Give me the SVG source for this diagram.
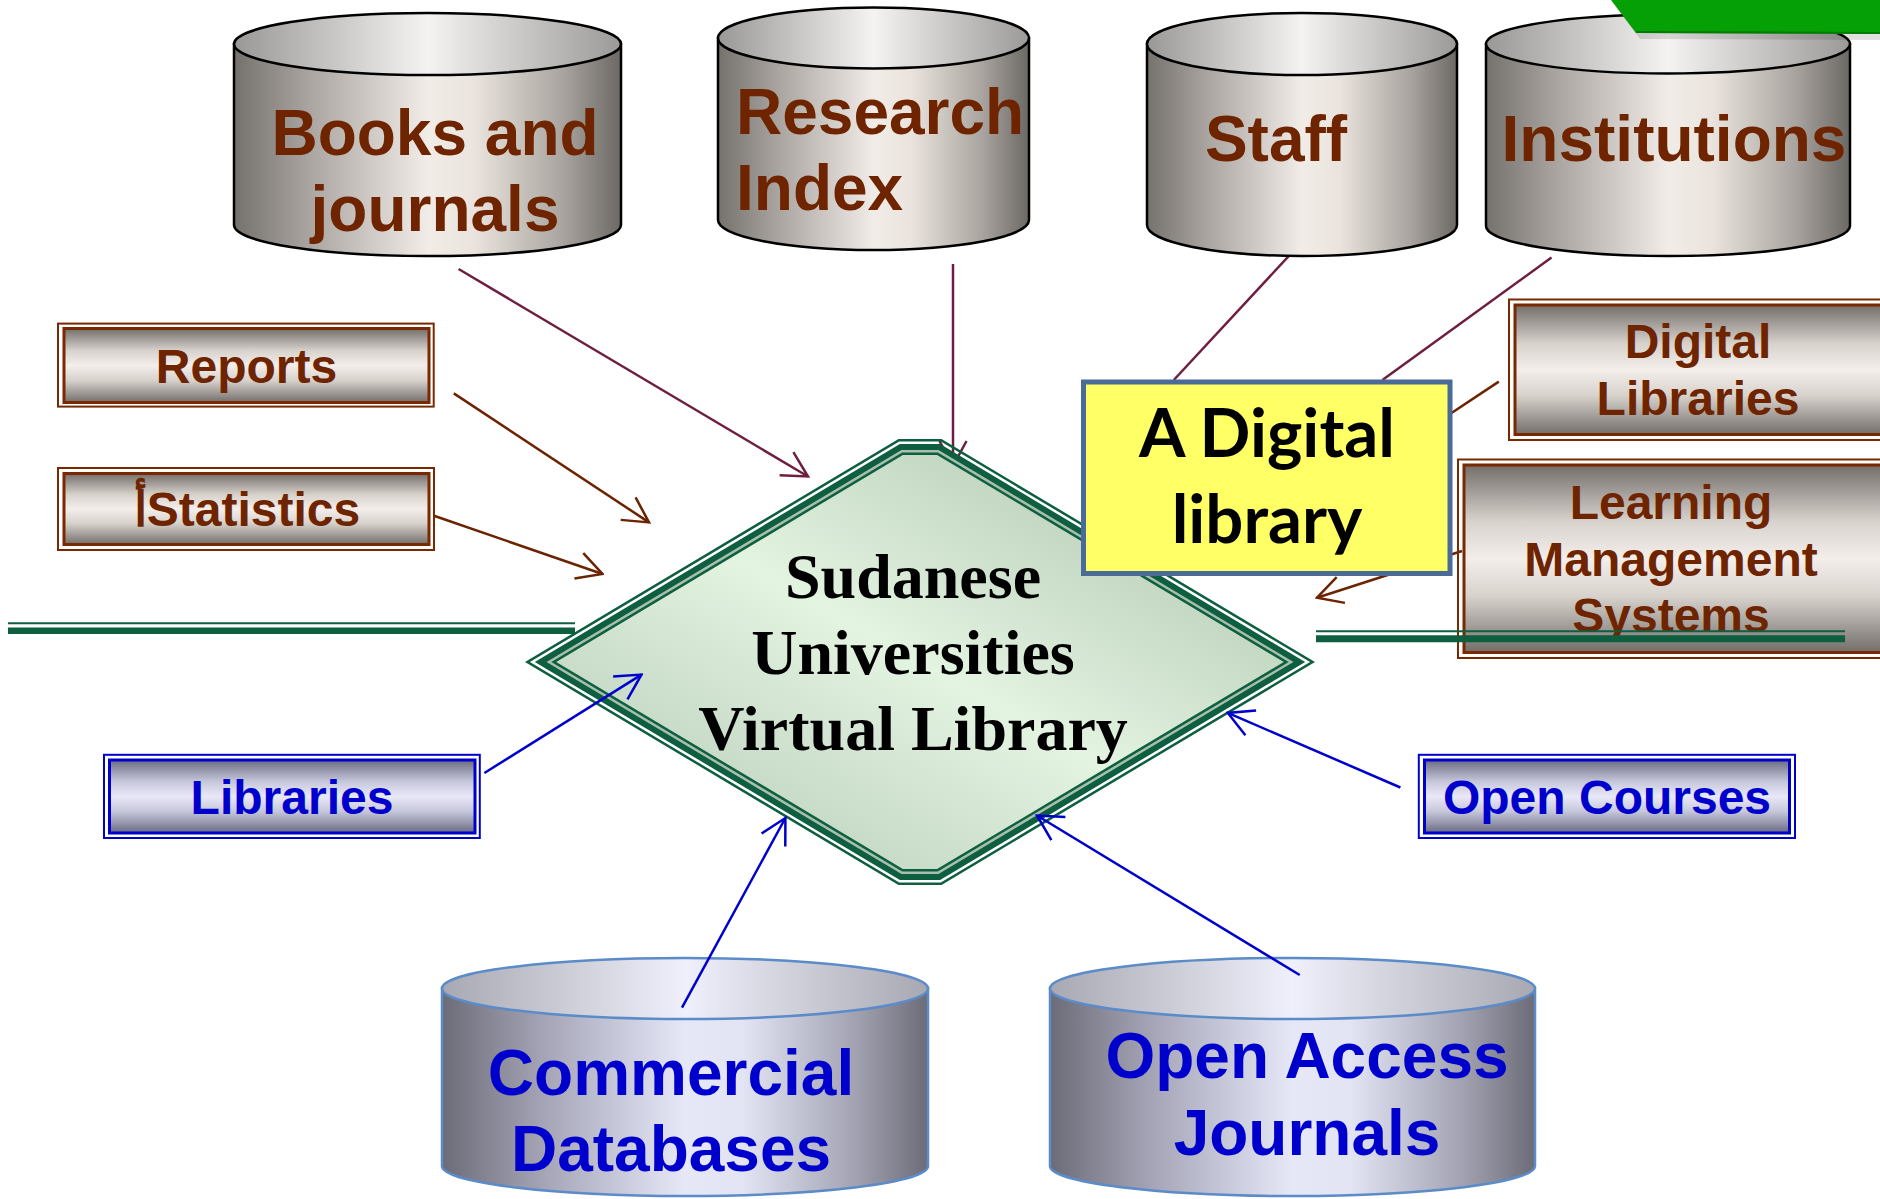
<svg xmlns="http://www.w3.org/2000/svg" width="1880" height="1199" viewBox="0 0 1880 1199">
<style>
.brown{fill:#6F2400;font-family:"Liberation Sans",Arial,sans-serif;font-weight:bold}
.blue{fill:#0000CC;font-family:"Liberation Sans",Arial,sans-serif;font-weight:bold}
.big{font-size:64px}
.mid{font-size:48px}
.serif{fill:#000;font-family:"Liberation Serif","Times New Roman",serif;font-weight:bold;font-size:64px}
.cal{fill:#000;font-family:Lato,"Open Sans",sans-serif;font-weight:bold;font-size:67px}
.gcyl-side{fill:url(#gSide);stroke:#000;stroke-width:2.5}
.gcyl-top{fill:url(#gTop);stroke:#000;stroke-width:2.5}
.bcyl-side{fill:url(#bSide);stroke:#5B8BC8;stroke-width:2.5}
.bcyl-top{fill:url(#bTop);stroke:#5B8BC8;stroke-width:2.5}
.bbox-out{fill:none;stroke:#7A2800;stroke-width:2}
.bbox-in{fill:url(#gBox);stroke:#7A2800;stroke-width:3}
.lbox-out{fill:none;stroke:#0000CC;stroke-width:2}
.lbox-in{fill:url(#bBox);stroke:#0000CC;stroke-width:3}
.c-maroon{stroke:#6E1E40;stroke-width:2.5;fill:none}
.c-brown{stroke:#6B2300;stroke-width:2.5;fill:none}
.c-blue{stroke:#0000CC;stroke-width:2.5;fill:none}
.gline{stroke:#0E5E40;fill:none}
.dg{fill:#0E5E40}
</style>
<defs>
<linearGradient id="gSide" x1="0" y1="0" x2="1" y2="0">
<stop offset="0" stop-color="#75716d"/>
<stop offset="0.2" stop-color="#aba6a1"/>
<stop offset="0.5" stop-color="#f1ece7"/>
<stop offset="0.62" stop-color="#ebe4de"/>
<stop offset="0.85" stop-color="#a9a49f"/>
<stop offset="1" stop-color="#6c6864"/>
</linearGradient>
<linearGradient id="gTop" x1="0" y1="0" x2="1" y2="0">
<stop offset="0" stop-color="#9a9896"/>
<stop offset="0.5" stop-color="#f5f3f1"/>
<stop offset="1" stop-color="#9c9a98"/>
</linearGradient>
<linearGradient id="bSide" x1="0" y1="0" x2="1" y2="0">
<stop offset="0" stop-color="#6c6c78"/>
<stop offset="0.2" stop-color="#a2a2b4"/>
<stop offset="0.5" stop-color="#e6e8f8"/>
<stop offset="0.62" stop-color="#e2e4f4"/>
<stop offset="0.85" stop-color="#a2a2b2"/>
<stop offset="1" stop-color="#6c6c78"/>
</linearGradient>
<linearGradient id="bTop" x1="0" y1="0" x2="1" y2="0">
<stop offset="0" stop-color="#a8a8b2"/>
<stop offset="0.5" stop-color="#f0f0fc"/>
<stop offset="1" stop-color="#a8a8b2"/>
</linearGradient>
<linearGradient id="gBox" x1="0" y1="0" x2="0" y2="1">
<stop offset="0" stop-color="#736e6a"/>
<stop offset="0.3" stop-color="#d8d2cd"/>
<stop offset="0.5" stop-color="#f3eeea"/>
<stop offset="0.7" stop-color="#d8d2cd"/>
<stop offset="1" stop-color="#736e6a"/>
</linearGradient>
<linearGradient id="bBox" x1="0" y1="0" x2="0" y2="1">
<stop offset="0" stop-color="#6a6a82"/>
<stop offset="0.3" stop-color="#c8c8dc"/>
<stop offset="0.5" stop-color="#e8e8f8"/>
<stop offset="0.7" stop-color="#c8c8dc"/>
<stop offset="1" stop-color="#6a6a82"/>
</linearGradient>
<linearGradient id="gDia" x1="1" y1="0" x2="0" y2="1">
<stop offset="0" stop-color="#a8bea9"/>
<stop offset="0.5" stop-color="#e3f4e1"/>
<stop offset="1" stop-color="#b0c4b2"/>
</linearGradient>
<marker id="ah-blue" viewBox="-30 -16 32 32" markerWidth="32" markerHeight="32" markerUnits="userSpaceOnUse" refX="0" refY="0" orient="auto"><path d="M-25,-13.5 L0,0 L-25,13.5" fill="none" stroke="#0000CC" stroke-width="2.5"/></marker>
<marker id="ah-brown" viewBox="-30 -16 32 32" markerWidth="32" markerHeight="32" markerUnits="userSpaceOnUse" refX="0" refY="0" orient="auto"><path d="M-25,-13.5 L0,0 L-25,13.5" fill="none" stroke="#6B2300" stroke-width="2.5"/></marker>
<marker id="ah-maroon" viewBox="-30 -16 32 32" markerWidth="32" markerHeight="32" markerUnits="userSpaceOnUse" refX="0" refY="0" orient="auto"><path d="M-25,-13.5 L0,0 L-25,13.5" fill="none" stroke="#6E1E40" stroke-width="2.5"/></marker>
</defs>

<g id="connectors-back">
<line class="c-maroon" x1="953" y1="264" x2="953" y2="466" marker-end="url(#ah-maroon)"/>
<line class="c-maroon" x1="1293.7" y1="250.7" x2="1173.8" y2="380"/>
<line class="c-maroon" x1="1551.5" y1="257.6" x2="1382.4" y2="380"/>
<line class="c-brown" x1="1498.8" y1="381.6" x2="1450" y2="414"/>
<line class="c-brown" x1="1462" y1="551" x2="1317" y2="597.7" marker-end="url(#ah-brown)"/>
</g>

<g id="node-books">
<path class="gcyl-side" d="M234,44 L234,225 A193.5,31 0 0 0 621,225 L621,44 Z"/>
<ellipse class="gcyl-top" cx="427.5" cy="44" rx="193.5" ry="31"/>
<text class="brown big" x="435" y="155" text-anchor="middle">Books and</text>
<text class="brown big" x="435" y="231" text-anchor="middle">journals</text>
</g>

<g id="node-research">
<path class="gcyl-side" d="M718,38 L718,220 A155.5,30 0 0 0 1029,220 L1029,38 Z"/>
<ellipse class="gcyl-top" cx="873.5" cy="38" rx="155.5" ry="30.5"/>
<text class="brown big" x="736" y="134">Research</text>
<text class="brown big" x="736" y="210">Index</text>
</g>

<g id="node-staff">
<path class="gcyl-side" d="M1147,44 L1147,225 A155,31 0 0 0 1457,225 L1457,44 Z"/>
<ellipse class="gcyl-top" cx="1302" cy="44" rx="155" ry="31"/>
<text class="brown big" x="1276" y="161" text-anchor="middle">Staff</text>
</g>

<g id="node-institutions">
<path class="gcyl-side" d="M1486,44 L1486,226 A182,30 0 0 0 1850,226 L1850,44 Z"/>
<ellipse class="gcyl-top" cx="1668" cy="44" rx="182" ry="29.5"/>
<text class="brown big" x="1674" y="161" text-anchor="middle">Institutions</text>
</g>

<g id="green-tab">
<polygon points="1615,6 1880,6 1880,40 1640,39" fill="#000" opacity="0.12"/>
<polygon points="1611,0 1880,0 1880,34 1636,33" fill="#05A005"/>
<polygon points="1636,31 1880,32 1880,34 1636,33" fill="#067A06"/>
</g>

<g id="node-reports">
<rect class="bbox-out" x="58" y="323.6" width="375.7" height="83"/>
<rect class="bbox-in" x="64" y="328.5" width="365" height="74"/>
<text class="brown mid" x="246.5" y="383" text-anchor="middle">Reports</text>
</g>

<g id="node-statistics">
<rect class="bbox-out" x="58" y="468" width="376" height="82"/>
<rect class="bbox-in" x="64" y="473.5" width="365" height="71"/>
<text class="brown mid" x="247" y="526" text-anchor="middle">أStatistics</text>
</g>

<g id="node-digital-libraries">
<rect class="bbox-out" x="1509" y="299.5" width="400" height="140.5"/>
<rect class="bbox-in" x="1515" y="305" width="400" height="129.5"/>
<text class="brown mid" x="1698" y="358" text-anchor="middle">Digital</text>
<text class="brown mid" x="1698" y="415" text-anchor="middle">Libraries</text>
</g>

<g id="node-lms">
<rect class="bbox-out" x="1458" y="459.5" width="450" height="198.5"/>
<rect class="bbox-in" x="1464" y="465" width="450" height="187.5"/>
<text class="brown mid" x="1671" y="518.6" text-anchor="middle">Learning</text>
<text class="brown mid" x="1671" y="576" text-anchor="middle">Management</text>
<text class="brown mid" x="1671" y="632" text-anchor="middle">Systems</text>
</g>

<g id="node-libraries">
<rect class="lbox-out" x="104" y="754.8" width="375.8" height="83.2"/>
<rect class="lbox-in" x="109.5" y="760" width="365.5" height="73"/>
<text class="blue mid" x="292" y="814" text-anchor="middle">Libraries</text>
</g>

<g id="node-open-courses">
<rect class="lbox-out" x="1418.8" y="754.8" width="376.2" height="83.2"/>
<rect class="lbox-in" x="1424.5" y="760" width="365" height="73"/>
<text class="blue mid" x="1607" y="814" text-anchor="middle">Open Courses</text>
</g>

<g id="node-commercial">
<path class="bcyl-side" d="M442,988 L442,1166 A243,30 0 0 0 928,1166 L928,988 Z"/>
<ellipse class="bcyl-top" cx="685" cy="988.5" rx="243" ry="30.5"/>
<text class="blue big" x="671" y="1094.5" text-anchor="middle">Commercial</text>
<text class="blue big" x="671" y="1171" text-anchor="middle">Databases</text>
</g>

<g id="node-open-access">
<path class="bcyl-side" d="M1050,988 L1050,1166 A242.5,30 0 0 0 1535,1166 L1535,988 Z"/>
<ellipse class="bcyl-top" cx="1292.5" cy="988.5" rx="242.5" ry="30.5"/>
<text class="blue big" x="1307" y="1078" text-anchor="middle">Open Access</text>
<text class="blue big" x="1307" y="1155" text-anchor="middle">Journals</text>
</g>

<g id="node-center">
<path class="dg" fill-rule="evenodd" d="M525,662 L898.5,439 L941.5,439 L1315,662 L941.5,885 L898.5,885 Z M529.9,662 L899.2,441.5 L940.8,441.5 L1310.1,662 L940.8,882.5 L899.2,882.5 Z"/>
<polygon class="dg" points="534.8,662 899.9,444 940.1,444 1305.2,662 940.1,880 899.9,880"/>
<polygon fill="#A9BFAE" points="546.5,662 901.5,450 938.5,450 1293.5,662 938.5,874 901.5,874"/>
<polygon class="dg" points="551.3,662 902.2,452.5 937.8,452.5 1288.7,662 937.8,871.5 902.2,871.5"/>
<polygon fill="url(#gDia)" points="556.2,662 902.9,455 937.1,455 1283.8,662 937.1,869 902.9,869"/>
<text class="serif" x="913" y="598" text-anchor="middle">Sudanese</text>
<text class="serif" x="913" y="674" text-anchor="middle">Universities</text>
<text class="serif" x="913" y="750" text-anchor="middle">Virtual Library</text>
</g>

<g id="node-digital-library">
<rect x="1083.5" y="382" width="366.5" height="191.5" fill="#FFFF66" stroke="#4A6A98" stroke-width="5"/>
<text class="cal" x="1267" y="457" text-anchor="middle">A Digital</text>
<text class="cal" x="1267" y="543" text-anchor="middle">library</text>
</g>

<g id="rules">
<line class="gline" x1="8" y1="623.3" x2="575" y2="623.3" stroke-width="2"/>
<line class="gline" x1="8" y1="630.7" x2="575" y2="630.7" stroke-width="6.5"/>
<line class="gline" x1="1316" y1="631.2" x2="1845" y2="631.2" stroke-width="2"/>
<line class="gline" x1="1316" y1="638.7" x2="1845" y2="638.7" stroke-width="7"/>
</g>

<g id="connectors">
<line class="c-maroon" x1="458.6" y1="269" x2="808" y2="476.5" marker-end="url(#ah-maroon)"/>
<line class="c-brown" x1="453.8" y1="393.4" x2="649" y2="522.4" marker-end="url(#ah-brown)"/>
<line class="c-brown" x1="434.7" y1="516" x2="602.5" y2="574" marker-end="url(#ah-brown)"/>
<line class="c-blue" x1="484.4" y1="773" x2="641.5" y2="674.6" marker-end="url(#ah-blue)"/>
<line class="c-blue" x1="682" y1="1007.6" x2="785.4" y2="818" marker-end="url(#ah-blue)"/>
<line class="c-blue" x1="1400.4" y1="787.5" x2="1227.8" y2="712.9" marker-end="url(#ah-blue)"/>
<line class="c-blue" x1="1299.7" y1="975" x2="1037" y2="815.5" marker-end="url(#ah-blue)"/>
</g>
</svg>
